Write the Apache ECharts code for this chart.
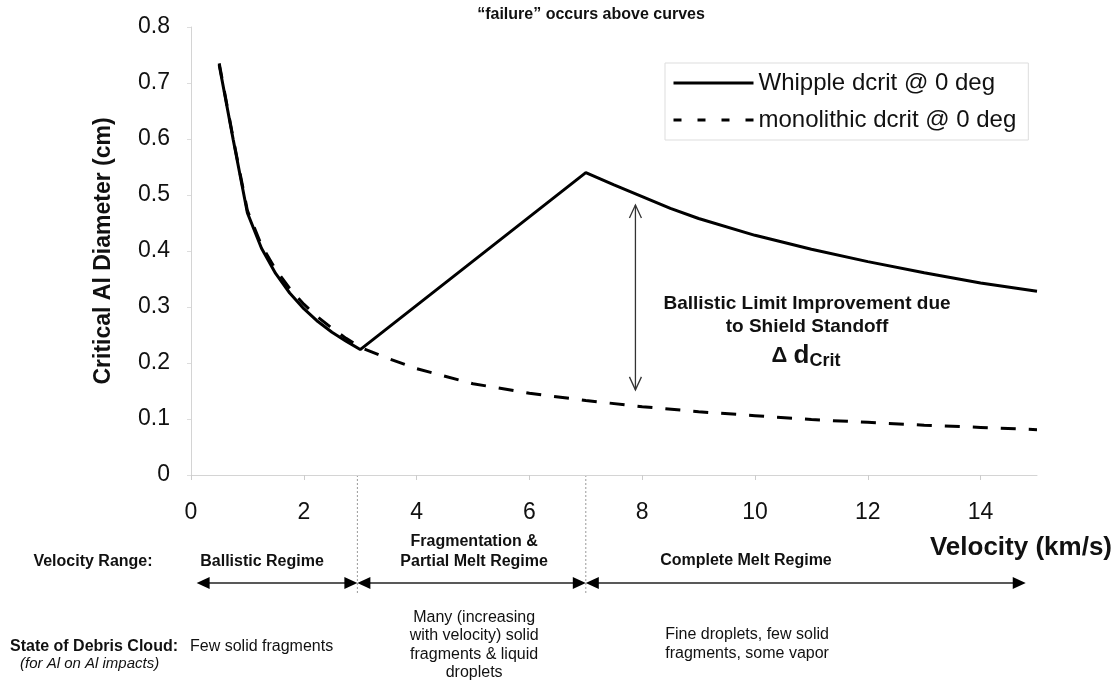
<!DOCTYPE html>
<html><head><meta charset="utf-8">
<script src="https://cdn.jsdelivr.net/npm/echarts@6/dist/echarts.min.js"></script>
<style>html,body{margin:0;padding:0;background:#fff}#c{width:1116px;height:682px}</style>
</head><body><div id="c"></div>
<script>
// ---------------- data ----------------
const whippleVelocity = [0.5, 0.75, 1, 1.25, 1.5, 1.75, 2, 2.25, 2.5, 2.75, 3, 7, 7.5, 8, 8.5, 9, 10, 11, 12, 13, 14, 15];
const whippleDcrit    = [0.732, 0.598, 0.468, 0.405, 0.36, 0.325, 0.297, 0.274, 0.255, 0.239, 0.224, 0.54, 0.518, 0.497, 0.476, 0.458, 0.428, 0.403, 0.381, 0.361, 0.343, 0.328];
const monoVelocity = [0.5, 0.75, 1, 1.25, 1.5, 1.75, 2, 2.25, 2.5, 2.75, 3, 3.5, 4, 5, 6, 7, 8, 9, 10, 11, 12, 13, 14, 15];
const monoDcrit    = [0.735, 0.6, 0.472, 0.41, 0.367, 0.333, 0.305, 0.282, 0.262, 0.244, 0.228, 0.208, 0.19, 0.163, 0.146, 0.133, 0.122, 0.113, 0.106, 0.099, 0.094, 0.089, 0.085, 0.081];
const seriesNames = ['Whipple dcrit @ 0 deg', 'monolithic dcrit @ 0 deg'];
const xTickValues = [0, 2, 4, 6, 8, 10, 12, 14];
const regimeBounds = [0.1, 2.95, 7.0, 14.8];      // velocity range arrows (km/s)
const regimeNames = ['Ballistic Regime', 'Fragmentation &\nPartial Melt Regime', 'Complete Melt Regime'];
const debrisStates = ['Few solid fragments', 'Many (increasing\nwith velocity) solid\nfragments & liquid\ndroplets', 'Fine droplets, few solid\nfragments, some vapor'];
const deltaArrow = { velocity: 7.88, low: 0.152, high: 0.482 };
const titleText = '\u201cfailure\u201d occurs above curves';
const yName = 'Critical Al Diameter (cm)';
const xName = 'Velocity (km/s)';

// ---------------- chart ----------------
const FONT = '"Liberation Sans", Arial, Helvetica, sans-serif';
const chart = echarts.init(document.getElementById('c'), null, { renderer: 'canvas' });
const pairs = (xs, ys) => xs.map((x, i) => [x, ys[i]]);

const option = {
  animation: false,
  backgroundColor: '#fff',
  textStyle: { fontFamily: FONT },
  grid: { left: 191, right: 79, top: 27, bottom: 207, containLabel: false },
  legend: {
    orient: 'vertical', left: 665, top: 63,
    padding: [8, 12, 8, 7], itemWidth: 80, itemHeight: 12, itemGap: 13,
    borderColor: '#ddd', borderWidth: 1,
    itemStyle: { opacity: 0 },
    lineStyle: { width: 3 },
    textStyle: { fontSize: 24, lineHeight: 24, color: '#111', fontFamily: FONT },
    data: [
      { name: seriesNames[0] },
      { name: seriesNames[1], lineStyle: { type: [8, 16], width: 3 } }
    ]
  },
  xAxis: {
    type: 'value', min: 0, max: 15, interval: 1,
    axisLine: { lineStyle: { color: '#d4d4d4', width: 1 } },
    axisTick: { show: true, customValues: xTickValues, length: 5, lineStyle: { color: '#ccc' } },
    axisLabel: { customValues: xTickValues, fontSize: 23, color: '#111', margin: 26, fontFamily: FONT },
    splitLine: { show: false }
  },
  yAxis: {
    type: 'value', min: 0, max: 0.8, interval: 0.1,
    name: yName, nameLocation: 'middle', nameGap: 76, nameRotate: 90,
    nameTextStyle: { fontSize: 23, fontWeight: 'bold', color: '#111', fontFamily: FONT },
    axisLine: { show: true, lineStyle: { color: '#d4d4d4', width: 1 } },
    axisTick: { show: true, length: 4, lineStyle: { color: '#ddd' } },
    axisLabel: { fontSize: 23, color: '#111', margin: 21, fontFamily: FONT },
    splitLine: { show: false }
  },
  series: [
    { name: seriesNames[0], type: 'line', data: pairs(whippleVelocity, whippleDcrit), symbol: 'none', showSymbol: false,
      lineStyle: { color: '#000', width: 3 }, itemStyle: { color: '#000' }, z: 3 },
    { name: seriesNames[1], type: 'line', data: pairs(monoVelocity, monoDcrit), symbol: 'none', showSymbol: false,
      lineStyle: { color: '#000', width: 3, type: [15, 13] }, itemStyle: { color: '#000' }, z: 2 }
  ]
};
chart.setOption(option);

// ---------------- annotations ----------------
const px = v => chart.convertToPixel({ xAxisIndex: 0 }, v);
const py = v => chart.convertToPixel({ yAxisIndex: 0 }, v);
const axisY = py(0);
const arrowY = 583;
const g = [];
const txt = (x, y, text, o) => g.push(Object.assign({ type: 'text', x, y, silent: true,
  style: Object.assign({ text, fontFamily: FONT, fill: '#111', align: 'center', verticalAlign: 'middle' }, o || {}) }));

// title
txt(591, 15, titleText, { fontSize: 16, fontWeight: 'bold' });
// x axis name
txt(1112, 548, xName, { fontSize: 26, fontWeight: 'bold', align: 'right' });

// regime boundary dotted lines
[regimeBounds[1], regimeBounds[2]].forEach(v => {
  g.push({ type: 'line', silent: true, shape: { x1: px(v), y1: axisY, x2: px(v), y2: 593 },
    style: { stroke: '#999', lineWidth: 1, lineDash: [2, 2] } });
});

// regime arrows
const head = (tipX, dir) => {
  const L = 13, H = 6;
  g.push({ type: 'polygon', silent: true, shape: { points: [[tipX, arrowY], [tipX - dir * L, arrowY - H], [tipX - dir * L, arrowY + H]] },
    style: { fill: '#000' } });
};
for (let i = 0; i < 3; i++) {
  const a = px(regimeBounds[i]), b = px(regimeBounds[i + 1]);
  g.push({ type: 'line', silent: true, shape: { x1: a + 4, y1: arrowY, x2: b - 4, y2: arrowY }, style: { stroke: '#222', lineWidth: 1.5 } });
  head(a, -1); head(b, 1);
}

// velocity range labels
txt(93, 562, 'Velocity Range:', { fontSize: 16, fontWeight: 'bold' });
txt(px(1.26), 562, regimeNames[0], { fontSize: 16, fontWeight: 'bold' });
txt(px(5.02), 552, regimeNames[1], { fontSize: 16, fontWeight: 'bold', lineHeight: 20 });
txt(px(9.84), 561, regimeNames[2], { fontSize: 16, fontWeight: 'bold' });

// debris cloud state
txt(10, 647, 'State of Debris Cloud:', { fontSize: 16, fontWeight: 'bold', align: 'left' });
txt(190, 647, debrisStates[0], { fontSize: 16, align: 'left' });
txt(20, 664, '(for Al on Al impacts)', { fontSize: 15, fontStyle: 'italic', align: 'left' });
txt(px(5.02), 645, debrisStates[1], { fontSize: 16, lineHeight: 18.5 });
txt(px(9.86), 644, debrisStates[2], { fontSize: 16, lineHeight: 18.5 });

// delta arrow
const ax = px(deltaArrow.velocity), ay1 = py(deltaArrow.high), ay2 = py(deltaArrow.low);
g.push({ type: 'line', silent: true, shape: { x1: ax, y1: ay1, x2: ax, y2: ay2 }, style: { stroke: '#333', lineWidth: 1.3 } });
g.push({ type: 'polyline', silent: true, shape: { points: [[ax - 6, ay1 + 13], [ax, ay1], [ax + 6, ay1 + 13]] }, style: { stroke: '#333', lineWidth: 1.3, fill: null } });
g.push({ type: 'polyline', silent: true, shape: { points: [[ax - 6, ay2 - 13], [ax, ay2], [ax + 6, ay2 - 13]] }, style: { stroke: '#333', lineWidth: 1.3, fill: null } });

txt(807, 315, 'Ballistic Limit Improvement due\nto Shield Standoff', { fontSize: 19, fontWeight: 'bold', lineHeight: 23 });
g.push({ type: 'text', x: 806, y: 356, silent: true, style: {
  text: '{a|\u0394 }{d|d}{s|Crit}', align: 'center', verticalAlign: 'middle', fontFamily: FONT, fill: '#111',
  rich: { a: { fontSize: 22, fontWeight: 'bold', fontFamily: FONT, fill: '#111' },
          d: { fontSize: 26, fontWeight: 'bold', fontFamily: FONT, fill: '#111' },
          s: { fontSize: 18, fontWeight: 'bold', fontFamily: FONT, fill: '#111', padding: [10, 0, 0, 0] } } } });

chart.setOption({ graphic: g });
</script></body></html>
